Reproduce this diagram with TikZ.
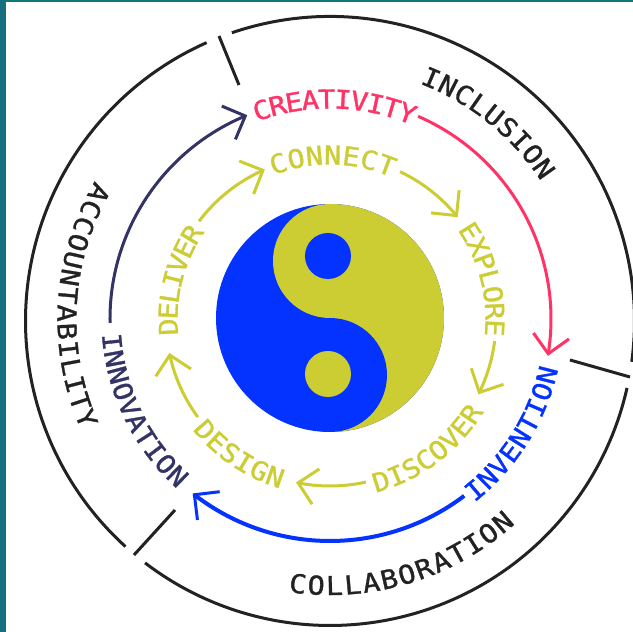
\documentclass[tikz,border=0pt]{standalone}
\usepackage{fontspec}
\usetikzlibrary{arrows.meta,bending}
\newfontfamily\lf[FakeBold=1.2,FakeStretch=1.1]{DejaVu Sans Mono}
\definecolor{tealL}{HTML}{17707F}
\definecolor{tealT}{HTML}{0F7A74}
\definecolor{inkc}{HTML}{222222}
\definecolor{pinkc}{HTML}{FF3366}
\definecolor{navyc}{HTML}{333366}
\definecolor{bluec}{HTML}{0433FF}
\definecolor{olivec}{HTML}{CCCC33}
\tikzset{
  ring/.style={draw=inkc,line width=3pt},
  flow/.style={line width=3pt,-{Straight Barb[length=18pt,width=36pt,line width=3pt]}},
  lettr/.style={inner sep=0pt,outer sep=0pt,anchor=center,text height=19pt,text depth=0pt,
    font=\fontsize{26pt}{26pt}\lf},
}
\newcount\lcnt
\makeatletter
% word, first-letter angle, last-letter angle, mid radius, colour
\newcommand\arctxt[5]{%
  \global\lcnt=0 \@tfor\ch:=#1\do{\global\advance\lcnt by 1 }%
  \pgfmathsetmacro\astep{(#3-#2)/(\the\lcnt-1)}%
  \pgfmathsetmacro\atilt{ifthenelse(#3<#2,-90,90)}%
  \global\lcnt=0
  \@tfor\ch:=#1\do{%
    \pgfmathsetmacro\aang{#2+\the\lcnt*\astep}%
    \global\advance\lcnt by 1
    \node[lettr,text=#5,rotate=\aang+\atilt] (#1-\the\lcnt) at (\aang:#4pt) {\ch};%
  }%
}
\makeatother
\begin{document}
\begin{tikzpicture}[x=1pt,y=1pt]
\useasboundingbox (-330,319) rectangle (303,-313);
\fill[white] (-330,319) rectangle (303,-313);
\fill[tealT] (-330,319) rectangle (303,317);
\fill[tealL] (-330,319) rectangle (-324,-313);
% yin yang
\fill[bluec] (0,1) circle[radius=114pt];
\fill[olivec] (0,115) arc[start angle=90,end angle=-90,radius=114pt] -- cycle;
\fill[olivec] (0,58) circle[radius=57pt];
\fill[bluec] (0,-56) circle[radius=57pt];
\fill[bluec] (-2,63) circle[radius=23pt];
\fill[olivec] (-2,-55) circle[radius=23pt];
% outer ring
\begin{scope}[shift={(0,-2)}]
\draw[ring] (108.8:304.5pt) arc[start angle=108.8,end angle=-7.7,radius=304.5pt];
\draw[ring] (-12.7:304.5pt) arc[start angle=-12.7,end angle=-127.4,radius=304.5pt];
\draw[ring] (227.8:304.5pt) arc[start angle=227.8,end angle=113.9,radius=304.5pt];
\end{scope}
% ticks
\draw[ring] (-111,283) -- (-91,234);
\draw[ring] (240,-41) -- (300,-58);
\draw[ring] (-155,-191) -- (-196,-236);
% middle arcs
\draw[flow,navyc] (181:220pt) arc[start angle=181,end angle=112.1,radius=220pt];
\draw[flow,pinkc] (66.5:221pt) arc[start angle=66.5,end angle=-9.6,radius=221pt];
\draw[flow,bluec,line width=4pt] (-52.8:222pt) arc[start angle=-52.8,end angle=-128.2,radius=222pt];
% inner arcs
\begin{scope}[shift={(0,-1)}]
\draw[flow,olivec] (143:164pt) arc[start angle=143,end angle=113.4,radius=164pt];
\draw[flow,olivec] (64.7:164pt) arc[start angle=64.7,end angle=38.8,radius=164pt];
\draw[flow,olivec] (-7.3:166pt) arc[start angle=-7.3,end angle=-26.6,radius=166pt];
\draw[flow,olivec] (-77.5:166pt) arc[start angle=-77.5,end angle=-101.8,radius=166pt];
\draw[flow,olivec] (216.3:164pt) arc[start angle=216.3,end angle=191.6,radius=164pt];
\end{scope}
% labels
\arctxt{INCLUSION}{67.2}{35.1}{261.5}{inkc}
\arctxt{ACCOUNTABILITY}{151.4}{202.2}{263}{inkc}
\arctxt{COLLABORATION}{-96.9}{-49.6}{266.5}{inkc}
\arctxt{CREATIVITY}{108.1}{69.4}{220}{pinkc}
\arctxt{INNOVATION}{186}{225.9}{219}{navyc}
\arctxt{INVENTION}{-49.7}{-14.5}{224}{bluec}
\arctxt{CONNECT}{108.4}{69.7}{164}{olivec}
\arctxt{EXPLORE}{31.9}{-3.1}{165}{olivec}
\arctxt{DISCOVER}{-72.5}{-33.9}{170}{olivec}
\arctxt{DESIGN}{221.6}{250.8}{167}{olivec}
\arctxt{DELIVER}{182.8}{148.5}{162}{olivec}
\end{tikzpicture}
\end{document}
